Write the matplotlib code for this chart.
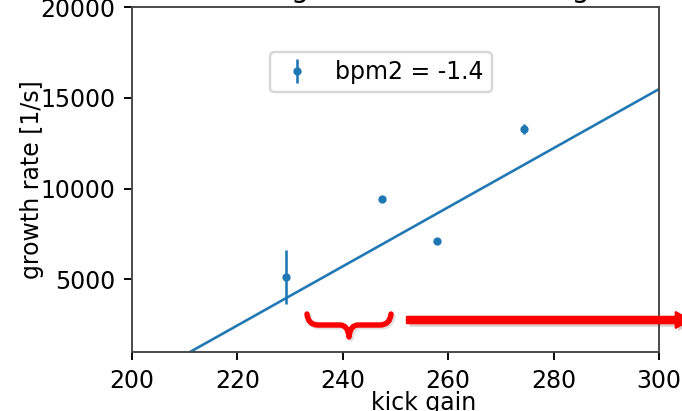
import numpy as np
import matplotlib
matplotlib.use('Agg')
import matplotlib.pyplot as plt
from matplotlib.path import Path
from matplotlib.patches import PathPatch
import matplotlib.patheffects as pe

# measured growth rates vs kick gain
kick_gain = [229.2, 247.4, 257.9, 274.3]
growth_rate = [5130, 9420, 7110, 13280]
growth_err = [1500, 120, 100, 250]
legend_label = 'bpm2 = -1.4'

# linear fit
fit_slope = 162.7
fit_offset = -33330
fit_x = np.array([200, 300])

DPI = 170
fig = plt.figure(figsize=(682 / DPI, 411 / DPI), dpi=DPI)
ax = fig.add_axes([132 / 682, 59 / 411, 527 / 682, 345 / 411])

ax.errorbar(kick_gain, growth_rate, yerr=growth_err, fmt='.', color='C0', ms=5,
            elinewidth=1.1, label=legend_label)
ax.plot(fit_x, fit_slope * fit_x + fit_offset, color='C0', lw=1.1)

ax.set_xlim(200, 300)
ax.set_ylim(1000, 20000)
ax.set_yticks([5000, 10000, 15000, 20000])
ax.set_xlabel('kick gain', labelpad=-0.6)
ax.xaxis.label.set_x(0.553)
ax.set_ylabel('growth rate [1/s]', labelpad=-1.5)
for s in ax.spines.values():
    s.set_color('#444444')
ax.legend(loc='upper center', bbox_to_anchor=(0.4725, 0.87), borderaxespad=0,
          handlelength=1.6, borderpad=0.35)

# title sits mostly above the visible area
fig.text(291 / 682, 1.008, 'growth rate vs kick gain', fontsize=12, va='baseline', ha='left')

# red brace + arrow drawn on top (pixel coords from top-left)
H = 411
def px(x, y):
    return (x / 682, (H - y) / H)

verts = [px(307, 314), px(308, 325), px(318, 325),
         px(340, 325),
         px(348, 325), px(349, 337),
         px(350, 325), px(358, 325),
         px(380, 325),
         px(390, 325), px(391, 314)]
codes = [Path.MOVETO, Path.CURVE3, Path.CURVE3,
         Path.LINETO,
         Path.CURVE3, Path.CURVE3,
         Path.CURVE3, Path.CURVE3,
         Path.LINETO,
         Path.CURVE3, Path.CURVE3]
brace = PathPatch(Path(verts, codes), transform=fig.transFigure, fill=False,
                  edgecolor='#ff0000', lw=2.3, capstyle='round', joinstyle='round',
                  path_effects=[pe.SimpleLineShadow(offset=(0.8, -0.8), alpha=0.12), pe.Normal()])
fig.add_artist(brace)

ax.annotate('', xy=(690, H - 320), xytext=(407, H - 320),
            xycoords='figure pixels', textcoords='figure pixels', annotation_clip=False,
            arrowprops=dict(arrowstyle='simple,head_length=0.6,head_width=0.65,tail_width=0.26',
                            mutation_scale=10, color='#ff0000', shrinkA=0, shrinkB=0,
                            path_effects=[pe.SimplePatchShadow(offset=(1, -1.5), alpha=0.2), pe.Normal()]))

fig.savefig('out.png', dpi=DPI)
